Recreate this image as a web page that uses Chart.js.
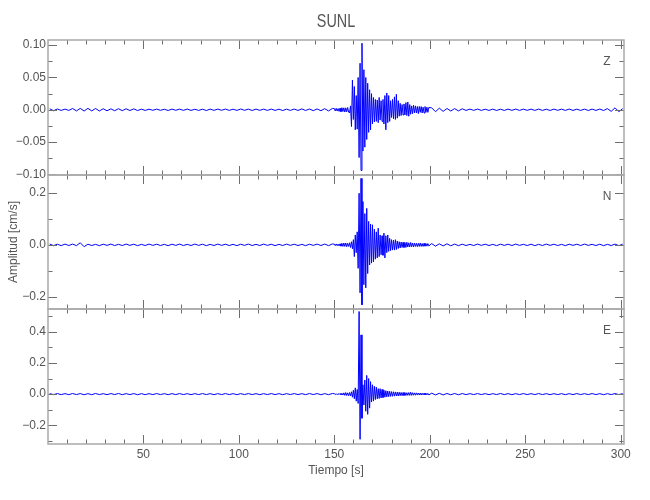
<!DOCTYPE html>
<html>
<head>
<meta charset="utf-8">
<title>SUNL</title>
<script src="https://cdn.jsdelivr.net/npm/chart.js@4.4.1/dist/chart.umd.min.js"></script>
<style>
  html, body { margin: 0; padding: 0; background: #fff; }
  #wrap { position: relative; width: 650px; height: 500px; }
  #wrap canvas { position: absolute; left: 0; top: 0; }
</style>
</head>
<body>
<div id="wrap">
  <canvas id="chZ" width="650" height="500"></canvas>
  <canvas id="chN" width="650" height="500"></canvas>
  <canvas id="chE" width="650" height="500"></canvas>
</div>
<script>
const stationName = "SUNL";
const xTitle = "Tiempo [s]";
const yTitle = "Amplitud [cm/s]";
const componentNames = ["Z", "N", "E"];

// sampling of the three blocks: quiet part, event, quiet part (s)
const sampleStart = [1, 150, 201];
const sampleStep = [2, 0.5, 2];

const xMin = 0.1, xMax = 301.7;
const xTicks = [50, 100, 150, 200, 250, 300];
const xMinor = [10, 20, 30, 40, 60, 70, 80, 90, 110, 120, 130, 140, 160, 170, 180, 190,
  210, 220, 230, 240, 260, 270, 280, 290];

// Z component (cm/s)
const zQuiet1 = [
  0.0015, -0.0015, 0.0012, -0.001, 0.001, -0.001, 0.002, -0.0018, 0.0021, -0.002,
  0.0022, -0.0018, 0.002, -0.0019, 0.0016, -0.0016, 0.0014, -0.0015, 0.0016, -0.0014,
  0.0015, -0.0012, 0.0014, -0.0012, 0.001,
  -0.001, 0.0009, -0.0008, 0.001, -0.0009, 0.0008, -0.0011, 0.001, -0.0008, 0.001,
  -0.0009, 0.0011, -0.001, 0.0008, -0.001, 0.0009, -0.0012, 0.001, -0.0009, 0.001,
  -0.0008, 0.0011, -0.001, 0.0009, -0.001, 0.0012, -0.0009, 0.001, -0.0011, 0.001,
  -0.0009, 0.001, -0.001, 0.0011, -0.001, 0.0009, -0.0012, 0.001, -0.001, 0.0011,
  -0.001, 0.0013, -0.0011, 0.0012, -0.0014, 0.0013, -0.0015, 0.0017, -0.0018, 0.002
];
const zEvent = [
  0.002, -0.0018, 0.0022, -0.002, 0.0018, -0.0025, 0.0025, -0.003, 0.0032, -0.0028,
  0.003, -0.0035, 0.003, -0.0032, 0.0035, -0.0035,
  -0.005, 0.006, -0.026, 0.046, -0.015, 0.036, -0.031, 0.022, -0.03, 0.05,
  -0.074, 0.072, -0.094, 0.103, -0.064, 0.062, -0.058, 0.05, -0.046, 0.041,
  -0.035, 0.031, -0.031, 0.025, -0.022, 0.019, -0.019, 0.016, -0.018, 0.015,
  -0.02, 0.019, -0.016, 0.014, -0.018, 0.016, -0.022, 0.022, -0.031, 0.026,
  -0.02, 0.022, -0.018, 0.014, -0.012, 0.016, -0.014, 0.02, -0.015, 0.024,
  -0.013, 0.014, -0.01, 0.01, -0.009, 0.008, -0.008, 0.009, -0.008, 0.011,
  -0.009, 0.012, -0.01, 0.008, -0.007, 0.006, -0.006, 0.007, -0.005, 0.006,
  -0.005, 0.005, -0.006, 0.005, -0.004, 0.005, -0.005, 0.004, -0.005, 0.005,
  -0.004, 0.004, -0.004, 0.0035
];
const zQuiet2 = [
  0.003, -0.003, 0.0025, -0.0025, 0.002, -0.002, 0.0018, -0.0018, 0.0015,
  -0.001, 0.001, -0.0009, 0.0011, -0.001, 0.0009, -0.001, 0.001, -0.0011, 0.0009,
  -0.001, 0.001, -0.0009, 0.0011, -0.001, 0.001, -0.0009, 0.001, -0.001, 0.0011,
  -0.001, 0.0009, -0.0011, 0.001, -0.0009, 0.001, -0.001, 0.0011, -0.001, 0.0009,
  -0.001, 0.001, -0.0011, 0.001, -0.001, 0.0011, -0.0012,
  0.0018, -0.0025, 0.003, -0.003, 0.0018
];

// N component (cm/s)
const nQuiet1 = [
  0.003, -0.003, 0.0025, -0.003, 0.003, -0.0025, 0.003, -0.003, 0.008, -0.007,
  0.0025, -0.0025, 0.002, -0.003, 0.0025, -0.002, 0.003, -0.0025, 0.002, -0.0025,
  0.003, -0.002, 0.0025, -0.003, 0.002, -0.0025, 0.003, -0.002, 0.0025, -0.0025,
  0.002, -0.003, 0.0025, -0.002, 0.003, -0.0025, 0.002, -0.0025, 0.003, -0.002,
  0.0025, -0.003, 0.002, -0.0025, 0.003, -0.002, 0.0025, -0.0025, 0.002, -0.003,
  0.0025, -0.002, 0.003, -0.0025, 0.002, -0.0025, 0.003, -0.002, 0.0025, -0.003,
  0.002, -0.0025, 0.003, -0.002, 0.0025, -0.0025, 0.002, -0.003, 0.0025, -0.002,
  0.003, -0.0025, 0.003, -0.003, 0.0035
];
const nEvent = [
  0.003, -0.003, 0.0035, -0.003, 0.003, -0.004, 0.004, -0.005, 0.006, -0.006,
  0.007, -0.006, 0.007, -0.007, 0.006, -0.006,
  0.008, -0.01, 0.012, -0.015, 0.02, -0.045, 0.038, -0.03, 0.05, -0.09,
  0.198, -0.184, 0.255, -0.23, 0.166, -0.153, 0.12, -0.165, 0.14, -0.11,
  0.09, -0.077, 0.08, -0.07, 0.077, -0.065, 0.06, -0.055, 0.05, -0.05,
  0.064, -0.045, 0.038, -0.038, 0.035, -0.04, 0.045, -0.05, 0.035, -0.03,
  0.038, -0.025, 0.025, -0.022, 0.02, -0.02, 0.018, -0.02, 0.02, -0.018,
  0.015, -0.014, 0.012, -0.012, 0.011, -0.01, 0.01, -0.01, 0.009, -0.01,
  0.01, -0.008, 0.008, -0.008, 0.009, -0.007, 0.007, -0.008, 0.007, -0.006,
  0.006, -0.007, 0.006, -0.006, 0.007, -0.006, 0.005, -0.006, 0.006, -0.005,
  0.005, -0.005, 0.005, -0.004
];
const nQuiet2 = [
  0.005, -0.005, 0.004, -0.004, 0.004, -0.0035, 0.003, -0.003,
  0.0025, -0.0025, 0.002, -0.0025, 0.003, -0.002, 0.0025, -0.0025, 0.002, -0.003,
  0.0025, -0.002, 0.0025, -0.0025, 0.003, -0.002, 0.002, -0.0025, 0.0025, -0.003,
  0.002, -0.0025, 0.003, -0.002, 0.0025, -0.0025, 0.002, -0.003, 0.0025, -0.002,
  0.0025, -0.0025, 0.003, -0.002, 0.002, -0.0025, 0.0025, -0.003, 0.002, -0.0025,
  0.003, -0.003, 0.0025
];

// E component (cm/s)
const eQuiet1 = [
  0.003, -0.003, 0.0035, -0.003, 0.003, -0.0035, 0.004, -0.003, 0.0035, -0.004,
  0.003, -0.0035, 0.004, -0.003, 0.003, -0.0035, 0.0035, -0.003, 0.004, -0.0035,
  0.003, -0.003, 0.0035, -0.004, 0.003, -0.0035, 0.003, -0.003, 0.0035, -0.003,
  0.003, -0.0035, 0.003, -0.003, 0.0035, -0.003, 0.003, -0.0035, 0.003, -0.003,
  0.0035, -0.003, 0.003, -0.0035, 0.003, -0.003, 0.0035, -0.003, 0.003, -0.0035,
  0.003, -0.003, 0.0035, -0.003, 0.003, -0.0035, 0.003, -0.003, 0.0035, -0.003,
  0.003, -0.0035, 0.003, -0.003, 0.0035, -0.003, 0.003, -0.0035, 0.004, -0.003,
  0.0035, -0.004, 0.003, -0.0035, 0.004
];
const eEvent = [
  0.003, -0.003, 0.003, -0.004, 0.003, -0.003, 0.004, -0.004, 0.005, -0.006,
  0.008, -0.008, 0.01, -0.009, 0.008, -0.01,
  0.01, -0.012, 0.015, -0.02, 0.025, -0.03, 0.04, -0.045, 0.03, -0.06,
  0.53, -0.29, 0.38, -0.155, 0.06, -0.07, 0.09, -0.11, 0.12, -0.13,
  0.1, -0.09, 0.08, -0.05, 0.06, -0.045, 0.05, -0.035, 0.045, -0.03,
  0.035, -0.028, 0.035, -0.025, 0.03, -0.022, 0.025, -0.02, 0.022, -0.018,
  0.02, -0.016, 0.018, -0.015, 0.016, -0.014, 0.015, -0.013, 0.014, -0.012,
  0.013, -0.012, 0.012, -0.01, 0.011, -0.01, 0.01, -0.009, 0.01, -0.009,
  0.009, -0.008, 0.01, -0.008, 0.012, -0.008, 0.009, -0.007, 0.008, -0.007,
  0.008, -0.006, 0.007, -0.006, 0.007, -0.006, 0.006, -0.005, 0.006, -0.005,
  0.006, -0.005, 0.005, -0.005
];
const eQuiet2 = [
  0.006, -0.005, 0.005, -0.005, 0.004, -0.004, 0.004, -0.004, 0.0035, -0.003,
  0.003, -0.003, 0.0035, -0.003, 0.003, -0.0035, 0.003, -0.003, 0.004, -0.003,
  0.003, -0.0035, 0.003, -0.003, 0.0035, -0.003, 0.003, -0.003, 0.0035, -0.003,
  0.003, -0.0035, 0.003, -0.003, 0.003, -0.0035, 0.003, -0.003, 0.0035, -0.003,
  0.003, -0.003, 0.0035, -0.003, 0.003, -0.0035, 0.003, -0.003, 0.0035, -0.003,
  0.003
];

// y axis ranges and ticks per panel
const zRange = [-0.101, 0.108];
const zTicks = [-0.10, -0.05, 0, 0.05, 0.10];
const zMinor = [-0.075, -0.025, 0.025, 0.075];
const nRange = [-0.246, 0.268];
const nTicks = [-0.2, 0, 0.2];
const nMinor = [-0.1, 0.1];
const eRange = [-0.32, 0.546];
const eTicks = [-0.2, 0, 0.2, 0.4];
const eMinor = [-0.3, -0.1, 0.1, 0.3, 0.5];

const FONT = '"Liberation Sans", Arial, sans-serif';
const TEXT = "#555555";
Chart.defaults.font.family = FONT;
Chart.defaults.color = TEXT;

function toPoints(blocks) {
  const pts = [];
  blocks.forEach((vals, b) => {
    vals.forEach((v, i) => pts.push({ x: sampleStart[b] + i * sampleStep[b], y: v }));
  });
  return pts;
}

// frame, inward ticks and component label (IDL style)
const seisFrame = {
  id: "seisFrame",
  afterDraw(chart, args, opts) {
    const { ctx, chartArea: a, scales } = chart;
    const line = (x1, y1, x2, y2) => { ctx.beginPath(); ctx.moveTo(x1, y1); ctx.lineTo(x2, y2); ctx.stroke(); };
    ctx.save();
    ctx.strokeStyle = "#6e6e6e";
    ctx.lineWidth = 1;
    const xt = (vals, len) => vals.forEach(v => {
      const x = Math.round(scales.x.getPixelForValue(v)) + 0.5;
      line(x, a.bottom, x, a.bottom - len);
      line(x, a.top, x, a.top + len);
    });
    const yt = (vals, len) => vals.forEach(v => {
      const y = Math.round(scales.y.getPixelForValue(v)) + 0.5;
      if (y < a.top || y > a.bottom) return;
      line(a.left, y, a.left + len, y);
      line(a.right, y, a.right - len, y);
    });
    xt(xTicks, 9); xt(xMinor, 4.5);
    yt(opts.major, 9); yt(opts.minor, 4.5);

    ctx.strokeStyle = "#a9a9a9";
    ctx.lineWidth = 1.5;
    ctx.strokeRect(a.left, a.top, a.right - a.left, a.bottom - a.top);

    ctx.fillStyle = TEXT;
    ctx.textAlign = "center";
    ctx.textBaseline = "middle";
    ctx.font = "12px " + FONT;
    ctx.fillText(opts.label, a.right - 17, a.top + 22);
    if (opts.title) {
      ctx.translate((a.left + a.right) / 2, 22);
      ctx.scale(0.8, 1);
      ctx.font = "18px " + FONT;
      ctx.fillText(opts.title, 0, 0);
    }
    ctx.restore();
  }
};

function fmt(d) {
  return v => (v < -1e-9 ? "\u2212" : "") + Math.abs(v).toFixed(d);
}

function makePanel(id, points, p) {
  const isBottom = p.bottom === 0;
  return new Chart(document.getElementById(id), {
    type: "line",
    data: {
      datasets: [{
        data: points,
        borderColor: "#0000ff",
        borderWidth: 1,
        pointRadius: 0,
        tension: 0,
        fill: false
      }]
    },
    options: {
      responsive: false,
      animation: false,
      events: [],
      layout: { padding: { left: 0, right: 26, top: p.top, bottom: p.bottom } },
      plugins: {
        legend: { display: false },
        tooltip: { enabled: false },
        seisFrame: { major: p.ticks, minor: p.minor, label: p.label, title: p.title }
      },
      scales: {
        x: {
          type: "linear",
          min: xMin,
          max: xMax,
          display: isBottom,
          afterBuildTicks: s => { s.ticks = xTicks.map(v => ({ value: v })); },
          afterFit: s => { s.height = isBottom ? 56 : 0; },
          grid: { display: false, drawTicks: false },
          border: { display: false },
          ticks: { autoSkip: false, maxRotation: 0, padding: 3, color: TEXT, font: { size: 12 } },
          title: {
            display: true,
            text: xTitle,
            color: TEXT,
            font: { size: 12 },
            padding: { top: 0, bottom: 22 }
          }
        },
        y: {
          min: p.range[0],
          max: p.range[1],
          afterBuildTicks: s => { s.ticks = p.ticks.map(v => ({ value: v })); },
          afterFit: s => { s.width = 48; },
          grid: { display: false, drawTicks: false },
          border: { display: false },
          ticks: { autoSkip: false, padding: 2, color: TEXT, font: { size: 12 }, callback: fmt(p.decimals) },
          title: {
            display: !!p.yTitle,
            text: p.yTitle || "",
            color: TEXT,
            font: { size: 12 },
            padding: { top: 6, bottom: 0 }
          }
        }
      }
    },
    plugins: [seisFrame]
  });
}

makePanel("chZ", toPoints([zQuiet1, zEvent, zQuiet2]), {
  top: 40, bottom: 325, range: zRange, ticks: zTicks, minor: zMinor,
  decimals: 2, label: componentNames[0], title: stationName
});
makePanel("chN", toPoints([nQuiet1, nEvent, nQuiet2]), {
  top: 175, bottom: 191, range: nRange, ticks: nTicks, minor: nMinor,
  decimals: 1, label: componentNames[1], yTitle: yTitle
});
makePanel("chE", toPoints([eQuiet1, eEvent, eQuiet2]), {
  top: 309, bottom: 0, range: eRange, ticks: eTicks, minor: eMinor,
  decimals: 1, label: componentNames[2]
});
</script>
</body>
</html>
